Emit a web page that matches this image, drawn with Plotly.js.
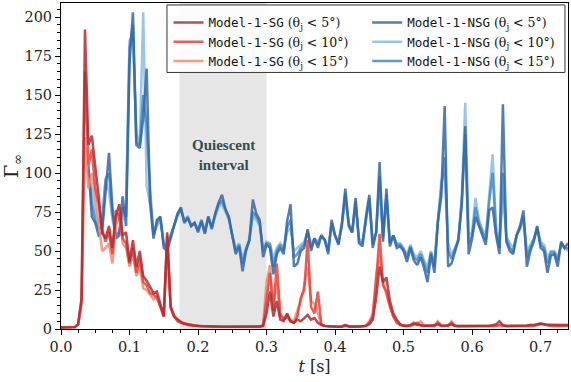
<!DOCTYPE html>
<html>
<head>
<meta charset="utf-8">
<script src="https://cdn.plot.ly/plotly-3.0.1.min.js"></script>
<style>
  body { margin: 0; background: #fff; }
  #gamma-plot { width: 571px; height: 382px; }
</style>
</head>
<body>
<div id="gamma-plot"></div>
<script>
// sampling of the light curves (s)
const dt = 0.005;
const tSg = Array.from({ length: 149 }, (_, i) => +(i * dt).toFixed(3));          // 0.000 .. 0.740
const tNsg = Array.from({ length: 141 }, (_, i) => +(0.04 + i * dt).toFixed(3));  // 0.040 .. 0.740

// quiescent interval (s)
const quiescent = [0.173, 0.300];

// Model-1-SG, Gamma_inf
const sg5 = [
    1, 1, 1, 1, 1.2, 3, 20, 192, 118, 124,
    105, 85, 62, 58, 66, 52, 72, 80, 60, 62,
    43, 57, 40, 50, 34, 31, 27, 23, 24, 16,
    8, 62, 14, 8, 6, 4.5, 3.5, 3, 2.5, 2.2,
    2, 2, 1.8, 1.8, 1.7, 1.6, 1.6, 1.5, 1.5, 1.5,
    1.5, 1.5, 1.5, 1.4, 1.5, 1.5, 1.5, 1.5, 1.6, 2,
    10, 24, 8, 18, 6, 5, 10, 5, 4, 6,
    5, 7, 9, 6, 7, 4, 2.5, 2, 1.8, 1.6,
    1.5, 1.5, 1.6, 2.5, 1.6, 1.5, 1.5, 1.6, 1.8, 2,
    3, 6, 20, 40, 30, 33, 18, 10, 6, 3,
    2.2, 2, 2.5, 3.5, 2.5, 2.5, 2, 2, 2.2, 2.5,
    3, 2, 2, 2.5, 3, 2, 2, 2, 1.8, 2,
    2, 2, 2, 1.8, 2, 2, 2.5, 3, 5, 2.5,
    2, 2, 2, 2, 2, 2, 2.2, 2.5, 2.5, 3,
    3.5, 3, 2.5, 2.5, 2.5, 2.5, 2.5, 2.5, 2.5
];
const sg10 = [
    1, 1, 1, 1, 1.2, 3, 18, 165, 105, 115,
    90, 80, 64, 56, 62, 48, 76, 72, 58, 55,
    42, 52, 36, 45, 30, 28, 23, 22, 20, 14,
    8, 60, 14, 8, 5, 4, 3, 2.5, 2.2, 2,
    1.8, 1.8, 1.6, 1.6, 1.5, 1.5, 1.4, 1.4, 1.4, 1.4,
    1.4, 1.4, 1.4, 1.4, 1.4, 1.4, 1.4, 1.5, 1.5, 2,
    20, 36, 12, 42, 10, 6, 8, 5, 4, 8,
    20, 25, 57, 14, 10, 24, 3, 2, 1.6, 1.5,
    1.4, 1.4, 1.5, 2, 1.5, 1.4, 1.4, 1.5, 1.6, 2,
    4, 8, 30, 61, 28, 24, 15, 8, 4, 2.5,
    2, 2, 2, 3, 4, 2.2, 2, 2, 2, 2,
    4, 2.2, 2, 2, 4, 2, 1.8, 1.8, 1.8, 1.8,
    1.8, 1.8, 1.8, 1.8, 1.8, 1.8, 2, 2, 2.5, 2,
    1.8, 1.8, 1.8, 1.8, 1.8, 1.8, 2, 2, 2, 2.5,
    3, 3, 2.5, 2, 2, 2, 2, 2, 2
];
const sg15 = [
    1, 1, 1, 1, 1.2, 3, 15, 123, 90, 100,
    85, 68, 50, 52, 55, 42, 65, 74, 55, 52,
    40, 48, 34, 40, 26, 25, 22, 19, 21, 15,
    9, 55, 15, 9, 6, 4.5, 3.5, 3, 2.5, 2.2,
    2, 1.8, 1.8, 1.7, 1.6, 1.6, 1.5, 1.5, 1.5, 1.5,
    1.5, 1.5, 1.5, 1.5, 1.5, 1.5, 1.5, 1.5, 1.6, 3,
    30, 41, 14, 30, 8, 7, 9, 6, 5, 12,
    18, 28, 40, 18, 16, 10, 3, 2, 1.7, 1.6,
    1.5, 1.5, 1.6, 2.5, 1.6, 1.5, 1.5, 1.6, 1.8, 2.2,
    5, 10, 35, 48, 30, 22, 14, 8, 5, 3,
    2.2, 2.2, 2.5, 4.5, 3, 5, 2.5, 2.2, 2, 2,
    5, 2.5, 2, 2.2, 5, 2.2, 2, 2, 2, 2,
    2, 2, 2, 2, 2, 2, 2.2, 2.2, 2.5, 2.2,
    2, 2, 2, 2, 2, 2, 2.2, 2.5, 2.5, 3,
    3.5, 3, 2.8, 2.5, 2.5, 2.5, 2.5, 2.5, 2.5
];

// Model-1-NSG, Gamma_inf
const nsg5 = [
    105, 72, 68, 60, 62, 90, 113, 78, 58, 60,
    85, 66, 170, 203, 118, 116, 135, 167, 82, 58,
    70, 72, 52, 50, 58, 66, 74, 78, 68, 71,
    66, 68, 62, 69, 61, 72, 64, 74, 81, 86,
    77, 72, 60, 48, 53, 37, 50, 57, 83, 74,
    70, 46, 54, 52, 35, 48, 52, 48, 69, 80,
    40, 42, 50, 52, 64, 50, 58, 52, 60, 57,
    48, 70, 60, 54, 68, 90, 66, 62, 84, 55,
    53, 72, 86, 52, 62, 107, 56, 90, 53, 60,
    52, 53, 50, 43, 52, 44, 41, 46, 39, 30,
    48, 36, 68, 85, 143, 40, 42, 50, 57, 80,
    130, 48, 58, 72, 66, 60, 54, 76, 78, 60,
    48, 144, 56, 50, 48, 60, 66, 76, 40, 50,
    56, 66, 52, 50, 36, 47, 48, 40, 56, 52,
    55
];
const nsg10 = [
    100, 90, 75, 68, 70, 95, 88, 70, 60, 62,
    70, 80, 185, 188, 125, 120, 203, 92, 80, 60,
    66, 70, 55, 53, 60, 66, 72, 76, 70, 72,
    67, 68, 64, 70, 63, 72, 66, 72, 78, 80,
    75, 70, 60, 52, 55, 45, 52, 58, 72, 70,
    66, 52, 56, 55, 45, 52, 55, 52, 62, 65,
    50, 52, 54, 56, 62, 55, 58, 56, 60, 57,
    52, 66, 60, 56, 66, 84, 68, 62, 80, 58,
    56, 70, 82, 56, 62, 92, 60, 84, 57, 60,
    55, 55, 52, 48, 54, 48, 46, 50, 44, 40,
    50, 42, 70, 95, 100, 55, 48, 52, 58, 85,
    145, 60, 62, 84, 70, 64, 60, 88, 112, 66,
    56, 85, 60, 55, 52, 60, 64, 70, 50, 54,
    58, 64, 56, 54, 46, 50, 50, 46, 54, 52,
    50
];
const nsg15 = [
    102, 80, 70, 64, 66, 96, 100, 74, 60, 62,
    78, 72, 180, 195, 120, 118, 150, 130, 90, 60,
    68, 72, 54, 52, 60, 66, 73, 77, 69, 72,
    66, 68, 63, 70, 62, 72, 65, 73, 80, 82,
    76, 71, 60, 50, 54, 42, 51, 57, 75, 72,
    68, 50, 55, 54, 40, 50, 54, 50, 65, 70,
    46, 48, 52, 54, 63, 52, 58, 54, 60, 57,
    50, 68, 60, 55, 67, 87, 67, 62, 82, 56,
    55, 71, 84, 54, 62, 98, 58, 86, 55, 60,
    54, 54, 51, 46, 53, 46, 44, 48, 42, 36,
    49, 40, 69, 90, 110, 50, 45, 51, 57, 82,
    125, 55, 60, 78, 68, 62, 57, 82, 100, 62,
    52, 100, 58, 52, 50, 60, 65, 72, 46, 52,
    57, 65, 54, 52, 42, 49, 49, 44, 55, 52,
    52
];

const serif = 'DejaVu Serif, serif';
const mono = 'DejaVu Sans Mono';

function legendName(model, angle) {
    return '<span style="font-family:' + mono + '">' + model + '</span> (θ<sub>j</sub> &lt; ' + angle + '°)';
}

function makeTrace(x, y, model, angle, color, legendId, rank) {
    return {
        x: x,
        y: y,
        mode: 'lines',
        type: 'scatter',
        line: { color: color, width: 2.5 },
        opacity: 0.85,
        name: legendName(model, angle),
        legend: legendId,
        legendrank: rank,
        hoverinfo: 'skip'
    };
}

// NSG first so the SG curves sit on top, like the original
const traces = [
    makeTrace(tNsg, nsg10, 'Model-1-NSG', 10, '#86bde0', 'legend2', 2),
    makeTrace(tNsg, nsg15, 'Model-1-NSG', 15, '#4489c6', 'legend2', 3),
    makeTrace(tNsg, nsg5, 'Model-1-NSG', 5, '#3566a6', 'legend2', 1),
    makeTrace(tSg, sg15, 'Model-1-SG', 15, '#f68a70', 'legend', 3),
    makeTrace(tSg, sg10, 'Model-1-SG', 10, '#e6423a', 'legend', 2),
    makeTrace(tSg, sg5, 'Model-1-SG', 5, '#b22a33', 'legend', 1)
];

const axisCommon = {
    showline: true,
    linecolor: '#000',
    linewidth: 1,
    mirror: true,
    ticks: 'outside',
    ticklen: 5,
    tickwidth: 1,
    tickcolor: '#000',
    showgrid: false,
    zeroline: false,
    tickfont: { family: serif, size: 14.5, color: '#222' }
};

const legendCommon = {
    orientation: 'v',
    xanchor: 'left',
    y: 0.985,
    yanchor: 'top',
    bgcolor: 'rgba(0,0,0,0)',
    borderwidth: 0,
    font: { family: serif, size: 12.5, color: '#111' },
    traceorder: 'normal',
    tracegroupgap: 0
};

const layout = {
    width: 571,
    height: 382,
    margin: { l: 61, r: 3, t: 3, b: 53 },
    paper_bgcolor: '#fff',
    plot_bgcolor: '#fff',
    showlegend: true,
    xaxis: Object.assign({}, axisCommon, {
        range: [0, 0.74],
        dtick: 0.1,
        tickformat: '.1f',
        minor: { dtick: 0.025, ticks: 'outside', ticklen: 3, tickcolor: '#000' },
        title: { text: '<i>t</i> [s]', font: { family: serif, size: 16, color: '#222' }, standoff: 6 }
    }),
    yaxis: Object.assign({}, axisCommon, {
        range: [0, 209],
        dtick: 25,
        minor: { dtick: 5, ticks: 'outside', ticklen: 3, tickcolor: '#000' },
        title: { text: 'Γ<sub>∞</sub>', font: { family: serif, size: 19, color: '#222' }, standoff: 8 }
    }),
    legend: Object.assign({}, legendCommon, { x: 0.212 }),
    legend2: Object.assign({}, legendCommon, { x: 0.604 }),
    shapes: [{
        type: 'rect',
        xref: 'x',
        yref: 'paper',
        x0: quiescent[0],
        x1: quiescent[1],
        y0: 0,
        y1: 1,
        fillcolor: '#e6e6e6',
        line: { width: 0 },
        layer: 'below'
    }, {
        // legend frame around both legend columns
        type: 'rect',
        xref: 'paper',
        yref: 'paper',
        x0: 0.209,
        x1: 0.994,
        y0: 0.787,
        y1: 0.994,
        fillcolor: 'rgba(255,255,255,0.88)',
        line: { color: '#333', width: 1 },
        layer: 'above'
    }],
    annotations: [{
        x: (quiescent[0] + quiescent[1]) / 2,
        y: 111.5,
        xref: 'x',
        yref: 'y',
        text: '<b>Quiescent</b><br><b>interval</b>',
        showarrow: false,
        font: { family: 'Liberation Serif, serif', size: 15, color: '#2f4f4f' }
    }]
};

Plotly.newPlot('gamma-plot', traces, layout, { displayModeBar: false, staticPlot: true });
</script>
</body>
</html>
